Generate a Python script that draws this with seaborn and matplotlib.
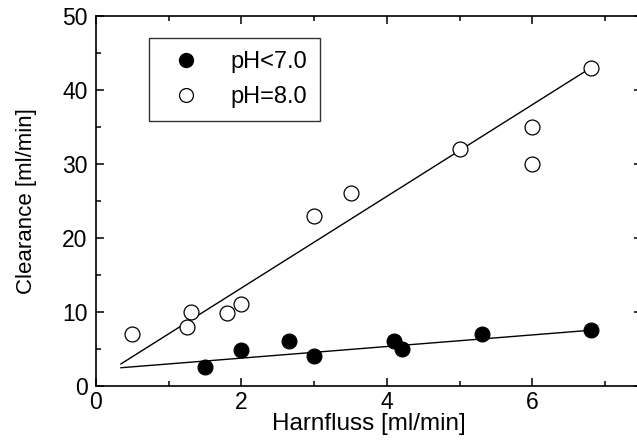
import matplotlib
matplotlib.use("Agg")
import matplotlib.pyplot as plt
import seaborn as sns
import numpy as np
import pandas as pd
from matplotlib.lines import Line2D

# Data
x_low = [1.5, 2.0, 2.65, 3.0, 4.1, 4.2, 5.3, 6.8]
y_low = [2.5, 4.8, 6.0, 4.0, 6.1, 5.0, 7.0, 7.5]
x_high = [0.5, 1.25, 1.3, 1.8, 2.0, 3.0, 3.5, 5.0, 6.0, 6.0, 6.8]
y_high = [7.0, 8.0, 10.0, 9.8, 11.0, 23.0, 26.0, 32.0, 35.0, 30.0, 43.0]
# fit lines (slope, intercept) and their x extent
fit_low = (0.785, 2.16)
fit_high = (6.2, 0.82)
fit_x = [0.34, 6.8]
labels = ["pH<7.0", "pH=8.0"]

sns.set_style("ticks")
plt.rcParams["font.family"] = ["Liberation Sans", "DejaVu Sans"]
plt.rcParams["text.color"] = "black"
plt.rcParams["axes.labelcolor"] = "black"

fig = plt.figure(figsize=(6.37, 4.41), dpi=100)
ax = fig.add_axes([96/637, 55.3/441, 545.6/637, 369.7/441])

df_low = pd.DataFrame({"x": x_low, "y": y_low})
df_high = pd.DataFrame({"x": x_high, "y": y_high})
fx = np.array(fit_x)
df_fl = pd.DataFrame({"x": fx, "y": fit_low[0]*fx + fit_low[1]})
df_fh = pd.DataFrame({"x": fx, "y": fit_high[0]*fx + fit_high[1]})

sns.lineplot(data=df_fl, x="x", y="y", ax=ax, color="black", lw=1.0, zorder=2)
sns.lineplot(data=df_fh, x="x", y="y", ax=ax, color="black", lw=1.0, zorder=2)
sns.scatterplot(data=df_low, x="x", y="y", ax=ax, s=115, color="black",
                edgecolor="black", linewidth=0.8, zorder=3)
sns.scatterplot(data=df_high, x="x", y="y", ax=ax, s=115, facecolor="white",
                edgecolor="black", linewidth=0.9, zorder=3)

ax.set_xlim(0, 7.5)
ax.set_ylim(0, 50)
ax.set_xticks([0, 2, 4, 6])
ax.set_xticks([1, 3, 5, 7], minor=True)
ax.set_yticks([0, 10, 20, 30, 40, 50])
ax.set_yticks([5, 15, 25, 35, 45], minor=True)
ax.tick_params(which="both", direction="in", top=True, right=True,
               colors="black", labelcolor="black", labelsize=16.5, width=1.1)
ax.tick_params(axis="x", which="major", length=6, pad=4)
ax.tick_params(axis="y", which="major", length=6, pad=6)
ax.tick_params(which="minor", length=3.6)
for s in ax.spines.values():
    s.set_linewidth(1.2)
    s.set_color("black")

ax.set_xlabel("Harnfluss [ml/min]", fontsize=17.5, labelpad=-1)
ax.set_ylabel("Clearance [ml/min]", fontsize=16, labelpad=18)

handles = [
    Line2D([], [], ls="none", marker="o", markersize=10, markerfacecolor="black",
           markeredgecolor="black"),
    Line2D([], [], ls="none", marker="o", markersize=10, markerfacecolor="white",
           markeredgecolor="black", markeredgewidth=0.9),
]
leg = ax.legend(handles, labels, loc="upper left", bbox_to_anchor=(0.097, 0.94),
                fontsize=17, frameon=True, fancybox=False, borderpad=0.55,
                handletextpad=0.9, labelspacing=0.55, borderaxespad=0)
leg.get_frame().set_edgecolor("black")
leg.get_frame().set_linewidth(1.0)

fig.savefig("out.png", dpi=100)
